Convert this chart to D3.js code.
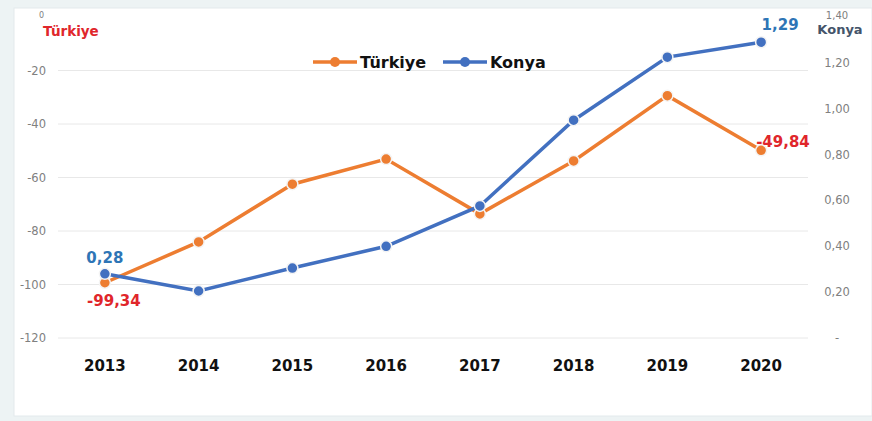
<html>
<script src='https://d3js.org/d3.v7.min.js'></script>
<style>
 body {margin:0; background:#edf3f4;}
 svg text {font-family: "DejaVu Sans", sans-serif;}
 .tick-l, .tick-r {fill:#808080; font-size:11.5px;}
 .year {font-size:15px; font-weight:bold; fill:#111;}
</style>
<body>
<svg width=872 height=421></svg>
<script>
var years = ["2013","2014","2015","2016","2017","2018","2019","2020"];
var turkiye = [-99.34, -84.1, -62.5, -53.1, -73.6, -53.8, -29.4, -49.84];
var konya = [0.28, 0.205, 0.305, 0.40, 0.576, 0.95, 1.225, 1.29];
var leftTicks = [0, -20, -40, -60, -80, -100, -120];
var rightTicks = [0, 0.2, 0.4, 0.6, 0.8, 1.0, 1.2, 1.4];

var orange = "#ed7d31", blue = "#4270c0";
var svg = d3.select("svg");

svg.append("rect").attr("x", 14).attr("y", 8).attr("width", 858).attr("height", 408)
  .attr("fill", "#fff").attr("stroke", "#e3eaec");

var x = d3.scaleBand().domain(years).range([58, 808]);
var yL = d3.scaleLinear().domain([-120, 0]).range([338, 17]);
var yR = d3.scaleLinear().domain([0, 1.4]).range([338, 17]);
var fmt = function(v) { return d3.format(".2f")(v).replace(".", ",").replace("\u2212", "-"); };
var cx = function(i) { return x(years[i]) + x.bandwidth() / 2; };

// gridlines
svg.append("g").selectAll("line").data(leftTicks.slice(1)).enter().append("line")
  .attr("x1", 58).attr("x2", 808)
  .attr("y1", function(d) { return yL(d); }).attr("y2", function(d) { return yL(d); })
  .attr("stroke", "#e8e8e8").attr("stroke-width", 1);

// left axis labels
svg.append("g").selectAll("text").data(leftTicks).enter().append("text")
  .attr("class", "tick-l")
  .attr("x", function(d) { return d == 0 ? 44 : 46; })
  .attr("y", function(d) { return d == 0 ? yL(d) + 1 : yL(d) + 4; })
  .attr("text-anchor", "end")
  .style("font-size", function(d) { return d == 0 ? "8px" : "11.5px"; })
  .text(function(d) { return d; });

// right axis labels
svg.append("g").selectAll("text").data(rightTicks).enter().append("text")
  .attr("class", "tick-r")
  .attr("x", 837).attr("y", function(d) { return d == 1.4 ? yR(d) + 2 : yR(d) + 4; })
  .attr("text-anchor", "middle")
  .style("font-size", function(d) { return d == 1.4 ? "10px" : "11.5px"; })
  .text(function(d) { return d == 0 ? "-" : fmt(d); });

// years
svg.append("g").selectAll("text").data(years).enter().append("text")
  .attr("class", "year")
  .attr("x", function(d) { return x(d) + x.bandwidth() / 2; }).attr("y", 371)
  .attr("text-anchor", "middle").text(function(d) { return d; });

// axis titles
svg.append("text").attr("x", 43).attr("y", 36).attr("fill", "#e0262b")
  .style("font-size", "13.5px").style("font-weight", "bold").text("Türkiye");
svg.append("text").attr("x", 840).attr("y", 34).attr("fill", "#44546a").attr("text-anchor", "middle")
  .style("font-size", "13px").style("font-weight", "bold").text("Konya");

function drawLine(vals, y, color) {
  var line = d3.line()
    .x(function(d, i) { return cx(i); })
    .y(function(d) { return y(d); });
  svg.append("path").datum(vals).attr("d", line)
    .attr("fill", "none").attr("stroke", color).attr("stroke-width", 3.5);
}
function drawPoints(vals, y, color) {
  svg.append("g").selectAll("circle").data(vals).enter().append("circle")
    .attr("cx", function(d, i) { return cx(i); })
    .attr("cy", function(d) { return y(d); })
    .attr("r", 5.5).attr("fill", color).attr("stroke", "#f4f4f4").attr("stroke-width", 1.5);
}
drawLine(turkiye, yL, orange);
drawLine(konya, yR, blue);

// data labels
var lbl = function(tx, ty, color, t, anchor) {
  svg.append("text").attr("x", tx).attr("y", ty).attr("fill", color).attr("text-anchor", anchor || "middle")
    .style("font-size", "15px").style("font-weight", "bold").text(t);
};
lbl(cx(0), yR(konya[0]) - 11, "#2e75b6", fmt(konya[0]));
lbl(cx(0) + 9, yL(turkiye[0]) + 23, "#e0262b", fmt(turkiye[0]));
lbl(cx(7) + 19, yR(konya[7]) - 12, "#2e75b6", fmt(konya[7]));
lbl(cx(7) - 5, yL(turkiye[7]) - 3, "#e0262b", fmt(turkiye[7]), "start");

drawPoints(turkiye, yL, orange);
drawPoints(konya, yR, blue);

// legend
var leg = svg.append("g").attr("transform", "translate(313,62)");
[["Türkiye", orange, 0], ["Konya", blue, 130]].forEach(function(s) {
  var g = leg.append("g").attr("transform", "translate(" + s[2] + ",0)");
  g.append("line").attr("x1", 0).attr("x2", 44).attr("y1", 0).attr("y2", 0)
    .attr("stroke", s[1]).attr("stroke-width", 3.5);
  g.append("circle").attr("cx", 22).attr("cy", 0).attr("r", 5).attr("fill", s[1]);
  g.append("text").attr("x", 47).attr("y", 6).attr("fill", "#111")
    .style("font-size", "16px").style("font-weight", "bold").text(s[0]);
});
</script>
</body>
</html>
